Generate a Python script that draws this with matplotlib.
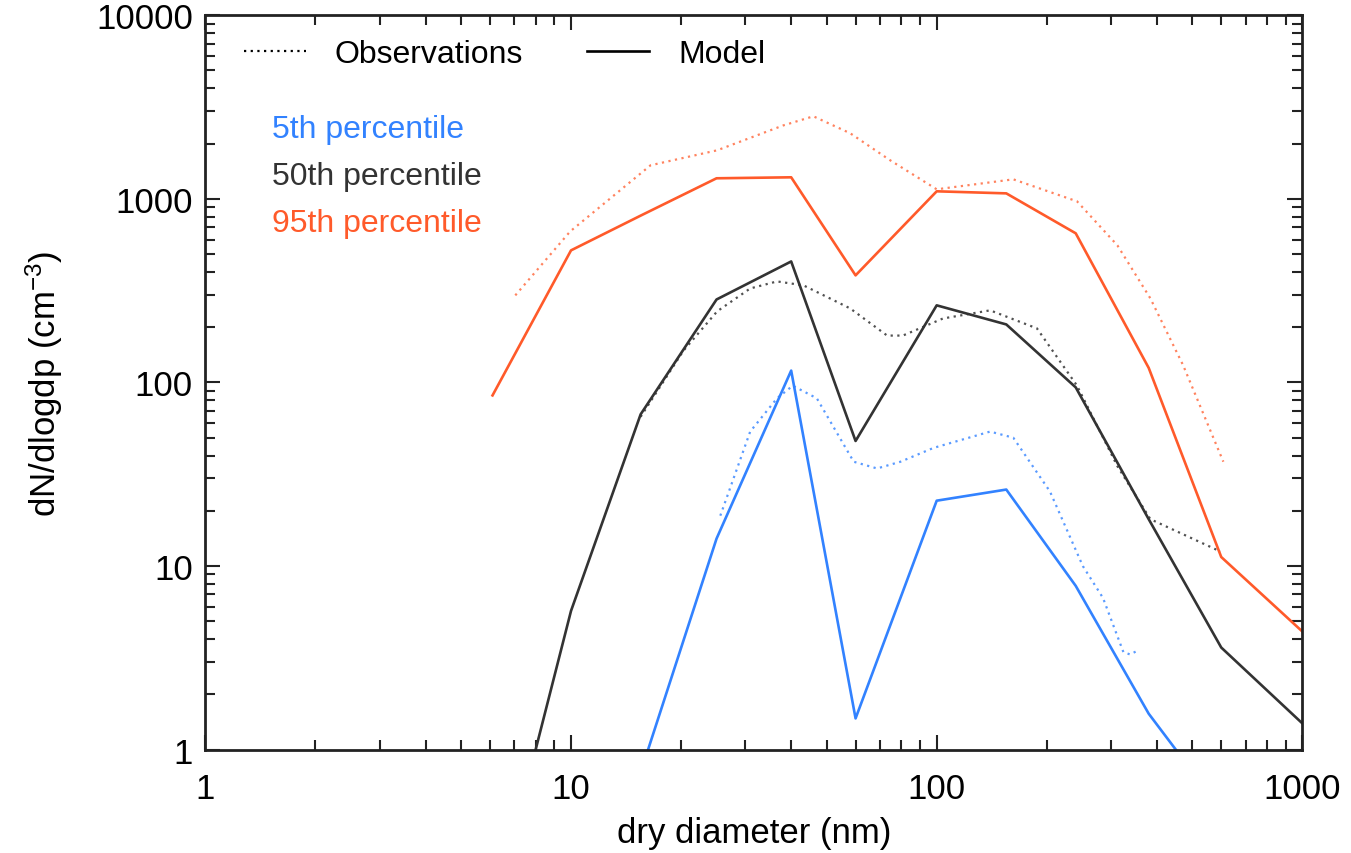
import matplotlib
matplotlib.use("Agg")
import matplotlib.pyplot as plt
from matplotlib import ticker
from matplotlib.lines import Line2D

plt.rcParams['font.family'] = ['Liberation Sans', 'DejaVu Sans']
plt.rcParams['mathtext.default'] = 'regular'

# model bins (dry diameter, nm)
model_dp = [6.1, 10, 15.5, 25, 40, 60, 100, 155, 240, 380, 600, 1000]
model_p95 = [85, 524, 810, 1294, 1310, 383, 1099, 1071, 649, 120, 11.2, 4.4]
model_p50 = [0.12, 5.7, 67, 283, 456, 48, 263, 207, 94, 18, 3.6, 1.39]
model_p05 = [None, None, 0.75, 14.1, 116, 1.48, 22.7, 26.1, 7.8, 1.57, 0.47, None]

# observations
obs95_dp = [7.04, 9.95, 16.5, 25.1, 38.1, 46, 58, 74.6, 100, 162, 242, 312, 384, 472, 608]
obs95 = [298, 665, 1523, 1838, 2513, 2815, 2276, 1622, 1127, 1277, 969, 558, 287, 124, 37]

obs50_dp = [15.5, 20.3, 25.1, 30.9, 36.6, 43.2, 58, 73.2, 80.8, 104, 140, 188, 242, 312, 384, 597]
obs50 = [65, 149, 244, 325, 355, 338, 253, 180, 180, 223, 247, 197, 96, 35, 18, 12]

obs05_dp = [25.6, 30.9, 36.6, 40.4, 47, 59.3, 68.7, 79.6, 98, 140, 162, 204, 251, 285, 324, 338, 358]
obs05 = [18.8, 54, 82, 96, 82, 37, 34, 37, 44, 54, 50, 25.5, 10, 6.7, 3.4, 3.3, 3.5]

c_red = '#ff5a2a'
c_blk = '#333333'
c_blu = '#3282ff'

def drop_none(xs, ys):
    pts = [(x, y) for x, y in zip(xs, ys) if y is not None]
    return [p[0] for p in pts], [p[1] for p in pts]

fig = plt.figure(figsize=(13.51, 8.54), dpi=100)
ax = fig.add_axes([0.152, 0.121, 0.812, 0.860])

dots = (0, (1, 2))
ax.plot(obs95_dp, obs95, color=c_red, lw=1.6, ls=dots, alpha=0.75)
ax.plot(obs50_dp, obs50, color=c_blk, lw=1.6, ls=dots, alpha=0.85)
ax.plot(obs05_dp, obs05, color=c_blu, lw=1.6, ls=dots, alpha=0.8)

ax.plot(*drop_none(model_dp, model_p95), color=c_red, lw=1.9)
ax.plot(*drop_none(model_dp, model_p50), color=c_blk, lw=1.9)
ax.plot(*drop_none(model_dp, model_p05), color=c_blu, lw=1.9)

ax.set_xscale('log')
ax.set_yscale('log')
ax.set_xlim(1, 1000)
ax.set_ylim(1, 10000)

fmt = ticker.FuncFormatter(lambda v, p: f"{v:g}")
ax.xaxis.set_major_formatter(fmt)
ax.yaxis.set_major_formatter(fmt)
ax.xaxis.set_minor_formatter(ticker.NullFormatter())
ax.yaxis.set_minor_formatter(ticker.NullFormatter())
ax.xaxis.set_minor_locator(ticker.LogLocator(base=10, subs=range(2, 10)))
ax.yaxis.set_minor_locator(ticker.LogLocator(base=10, subs=range(2, 10)))

ax.tick_params(which='both', direction='in', top=True, right=True, width=1.5, color='#222222')
ax.tick_params(which='major', length=11)
ax.tick_params(which='minor', length=7)
ax.tick_params(axis='x', which='major', labelsize=25, pad=16)
ax.tick_params(axis='y', which='major', labelsize=25, pad=9)
for s in ax.spines.values():
    s.set_linewidth(2)
    s.set_color('#222222')

ax.set_xlabel('dry diameter (nm)', fontsize=25, labelpad=8)
ax.set_ylabel('dN/dlogdp (cm$^{-3}$)', fontsize=25, labelpad=22)

handles = [Line2D([], [], color='black', lw=1.6, ls=dots),
           Line2D([], [], color='black', lw=1.9)]
ax.legend(handles, ['Observations', 'Model'], loc='upper left',
          bbox_to_anchor=(0.035, 0.968), ncol=2, frameon=False, fontsize=23,
          handlelength=1.95, handletextpad=0.9, columnspacing=2.0,
          borderpad=0, borderaxespad=0)

ax.text(0.061, 0.845, '5th percentile', color=c_blu, fontsize=23,
        transform=ax.transAxes, va='center')
ax.text(0.061, 0.781, '50th percentile', color=c_blk, fontsize=23,
        transform=ax.transAxes, va='center')
ax.text(0.061, 0.717, '95th percentile', color=c_red, fontsize=23,
        transform=ax.transAxes, va='center')

fig.savefig('out.png', dpi=100)
